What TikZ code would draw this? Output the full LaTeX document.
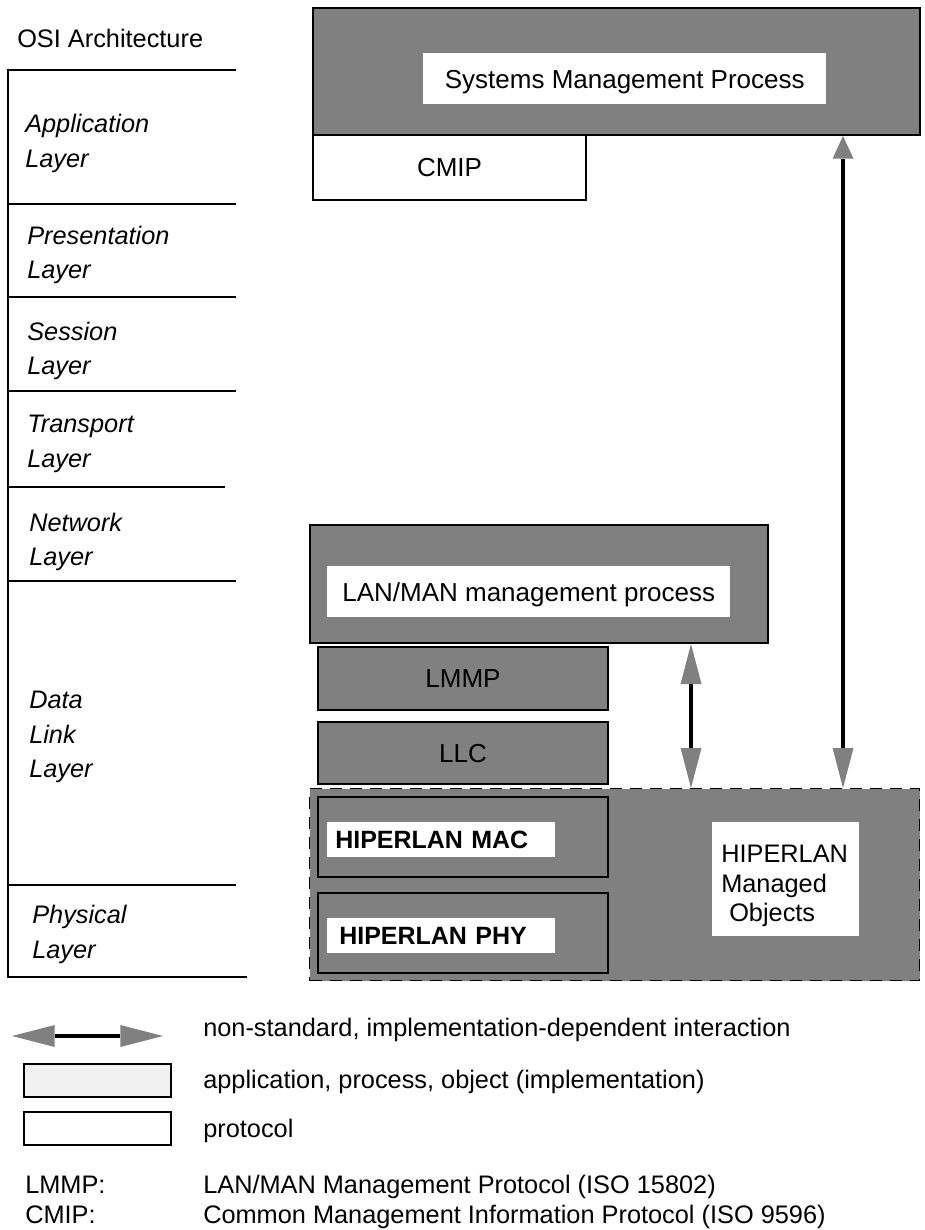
\documentclass[tikz,border=0pt]{standalone}
\usepackage{fontspec}
\setmainfont{Liberation Sans}
\usetikzlibrary{arrows.meta}
\definecolor{boxgray}{RGB}{128,128,128}
\definecolor{implfill}{RGB}{240,240,240}

\begin{document}
\begin{tikzpicture}[x=0.75pt,y=0.75pt,yscale=-1,xscale=1,
  layerline/.style={line width=1.7pt},
  procbox/.style={draw, line width=1.5pt, fill=boxgray, anchor=north west, inner sep=0pt},
  protbox/.style={draw, line width=1.5pt, fill=white, anchor=north west, inner sep=0pt},
  hmobox/.style={draw, line width=1.1pt, dash pattern=on 9pt off 6pt, fill=boxgray, anchor=north west, inner sep=0pt},
  whitelbl/.style={fill=white, anchor=north west, inner sep=0pt},
  boxtxt/.style={font=\fontsize{19.5}{23}\selectfont, text height=14pt, text depth=0pt},
  boldlbl/.style={font=\fontsize{18.75}{22}\selectfont\bfseries, text height=13.4pt, text depth=0pt, text width=159pt, align=left, inner xsep=6pt},
  layertxt/.style={anchor=west, inner sep=0pt, align=left, font=\fontsize{19}{26}\selectfont\itshape},
  plaintxt/.style={anchor=base west, inner sep=0pt, font=\fontsize{19}{22}\selectfont},
  interact/.style={line width=3.4pt},
  ghead/.tip={Triangle[length=30pt, width=15.75pt, line width=0pt, color=boxgray]},
  gheadshort/.tip={Triangle[length=17pt, width=15.75pt, line width=0pt, color=boxgray]},
  leghead/.tip={Triangle[length=32pt, width=16.5pt, line width=0pt, color=boxgray]},
]
\useasboundingbox (0,0) rectangle (924,1230);

%Straight Lines: OSI layer ladder
\draw[layerline] (236,70) -- (8,70) -- (8,977) -- (247,977) ;
\draw[layerline] (8,204) -- (236,204) ;
\draw[layerline] (8,297) -- (236,297) ;
\draw[layerline] (8,391) -- (236,391) ;
\draw[layerline] (8,487) -- (225,487) ;
\draw[layerline] (8,581) -- (236,581) ;
\draw[layerline] (8,885) -- (236,885) ;

% Text Node
\node[plaintxt] (osi) at (17,48) {OSI Architecture};
\node[layertxt] (appl) at (25,143.5) {Application\\Layer};
\node[layertxt] (pres) at (27,255) {Presentation\\Layer};
\node[layertxt] (sess) at (27,351) {Session\\Layer};
\node[layertxt] (trans) at (27,444) {Transport\\Layer};
\node[layertxt] (netw) at (29,542) {Network\\Layer};
\node[layertxt] (dlink) at (29,737) {Data\\Link\\Layer};
\node[layertxt] (phys) at (32,934.5) {Physical\\Layer};

%Shape: Rectangle (systems management)
\node[procbox, minimum width=455.25pt, minimum height=95.25pt] (sysmgmt) at (312,7) {};
\node[whitelbl, boxtxt, minimum width=302.25pt, minimum height=38.25pt] (smp) at (423,53) {Systems Management Process};
\node[protbox, boxtxt, minimum width=204.75pt, minimum height=48.75pt] (cmip) at (312,134) {CMIP};

%Shape: Rectangle (LAN/MAN management)
\node[procbox, minimum width=343.5pt, minimum height=88.5pt] (lanman) at (309,524) {};
\node[whitelbl, boxtxt, minimum width=302.25pt, minimum height=38.25pt] (lmp) at (327,566) {LAN/MAN management process};
\node[procbox, boxtxt, minimum width=217.5pt, minimum height=47.25pt] (lmmp) at (317,646) {LMMP};
\node[procbox, boxtxt, minimum width=217.5pt, minimum height=46.5pt] (llc) at (317,721) {LLC};

%Shape: Rectangle (HIPERLAN managed objects, dashed)
\node[hmobox, minimum width=457.5pt, minimum height=144pt] (hmo) at (309,788) {};
\node[procbox, minimum width=217.5pt, minimum height=60pt] (mac) at (317,796) {};
\node[whitelbl, boldlbl, minimum width=171pt, minimum height=26.25pt] (maclbl) at (327,822) {HIPERLAN MAC};
\node[procbox, minimum width=217.5pt, minimum height=60pt] (phy) at (317,892) {};
\node[whitelbl, boldlbl, minimum width=171pt, minimum height=26.25pt] (phylbl) at (327,918) {\hspace{3pt}HIPERLAN PHY};
\node[whitelbl, minimum width=110.25pt, minimum height=85.5pt] (mobj) at (712,822) {};
\node[anchor=west, inner sep=0pt, align=left, font=\fontsize{19}{22.1}\selectfont] (mobjtxt) at (721,886) {HIPERLAN\\Managed\\\hspace{6pt}Objects};

%Arrows: non-standard interactions
\coordinate (longx) at (843,0);
\coordinate (shortx) at (691,0);
\draw[interact, gheadshort-ghead] (sysmgmt.south -| longx) -- (hmo.north -| longx) ;
\draw[interact, ghead-ghead] (lanman.south -| shortx) -- (hmo.north -| shortx) ;

%Legend
\coordinate (legl) at (12,1036);
\coordinate (legr) at (163,1036);
\draw[interact, leghead-leghead] (legl) -- (legr) ;
\node[protbox, fill=implfill, minimum width=110.25pt, minimum height=24.75pt] (legimpl) at (23,1063) {};
\node[protbox, minimum width=110.25pt, minimum height=24.75pt] (legproto) at (23,1111) {};
\node[plaintxt] (txtinteract) at (203,1036) {non-standard, implementation-dependent interaction};
\node[plaintxt] (txtimpl) at (203,1088) {application, process, object (implementation)};
\node[plaintxt] (txtproto) at (203,1137) {protocol};
\node[plaintxt] (abblmmp) at (25,1193) {LMMP:};
\node[plaintxt] (deflmmp) at (203,1193) {LAN/MAN Management Protocol (ISO 15802)};
\node[plaintxt] (abbcmip) at (25,1223) {CMIP:};
\node[plaintxt] (defcmip) at (203,1223) {Common Management Information Protocol (ISO 9596)};
\end{tikzpicture}
\end{document}
